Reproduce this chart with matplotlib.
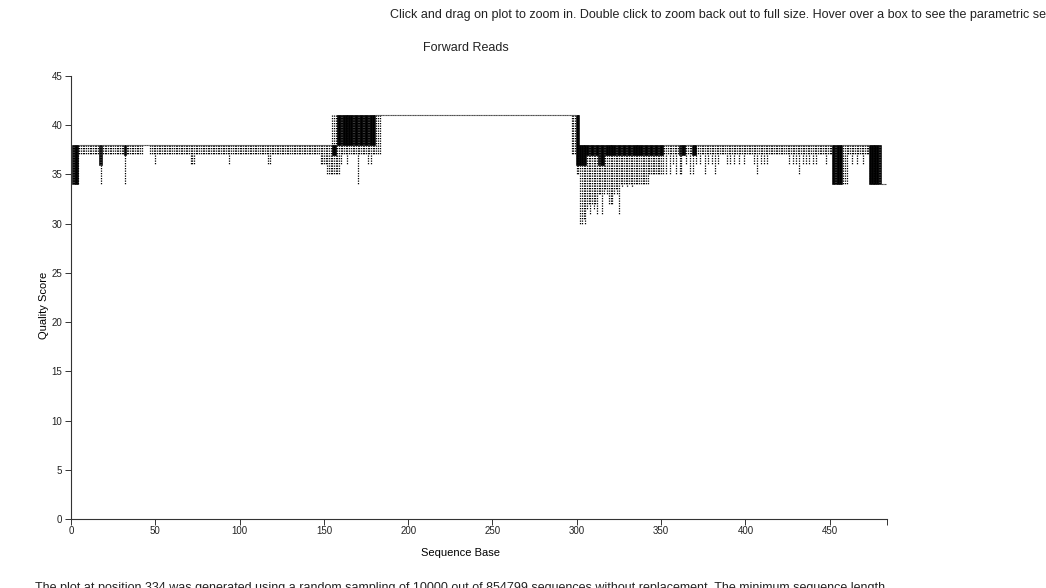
import matplotlib
matplotlib.use("Agg")
import matplotlib.pyplot as plt
from matplotlib.collections import LineCollection
import numpy as np

plt.rcParams['font.family'] = ['Liberation Sans', 'DejaVu Sans']

# ---- data: per-position quality summaries, read as runs of positions ----
seg_start = [1, 5, 17, 19, 32, 33, 43, 47, 148, 155, 158, 181, 184, 297, 300, 302, 343, 352, 452, 458, 461, 474, 481]
seg_end   = [4, 16, 18, 31, 32, 42, 46, 147, 154, 157, 180, 183, 296, 299, 301, 342, 351, 451, 457, 460, 473, 480, 483]
seg_wlow  = [34, 37, 36, 37, 34, 37, 38, 37, 36, 35, 37, 37, 41, 37, 35, 34, 35, 37, 34, 34, 37, 34, 34]
seg_q1    = [34, 38, 36, 38, 37, 38, 38, 38, 38, 37, 38, 41, 41, 41, 36, 37, 37, 38, 34, 38, 38, 34, 34]
seg_med   = [37, 38, 38, 38, 38, 38, 38, 38, 38, 38, 41, 41, 41, 41, 38, 38, 38, 38, 37, 38, 38, 37, 34]
seg_q3    = [38, 38, 38, 38, 38, 38, 38, 38, 38, 38, 41, 41, 41, 41, 41, 38, 38, 38, 38, 38, 38, 38, 34]
seg_whigh = [38, 38, 38, 38, 38, 38, 38, 38, 38, 41, 41, 41, 41, 41, 41, 38, 38, 38, 38, 38, 38, 38, 34]

# individual positions whose lower whisker differs from its run
low_pos = [18, 50, 71, 72, 73, 94, 117, 118, 152, 153, 154, 158, 159, 160, 164, 170, 176, 178,
           302, 303, 304, 305, 306, 307, 308, 309, 310, 311, 312, 313, 314, 315, 316, 317, 318,
           319, 320, 321, 322, 323, 324, 325, 327, 330, 333,
           353, 355, 357, 359, 361, 362, 365, 367, 369, 371, 373, 376, 378, 380, 382, 384,
           389, 391, 393, 396, 399, 405, 407, 409, 411, 413, 426, 428, 430, 432, 434, 436,
           438, 440, 442, 448, 463, 466, 470]
low_val = [34, 36, 36, 36, 36, 36, 36, 36, 35, 35, 35, 35, 35, 36, 36, 34, 36, 36,
           30, 30, 30.5, 30, 31.5, 32, 31, 32, 31.5, 32, 31, 33, 33, 31, 33, 33.5, 33,
           32, 32, 32, 33, 33.5, 33, 31, 33.7, 33.7, 33.7,
           35, 35, 36, 35, 35, 35, 36, 35, 35, 36, 36, 35, 36, 36, 35, 36,
           36, 36, 36, 36, 36, 36, 35, 36, 36, 36, 36, 36, 36, 35, 36, 36,
           36, 36, 36, 36, 36, 36, 36]

# individual positions whose lower quartile differs from its run
q1_pos = [302, 303, 304, 305, 313, 314, 315, 316, 361, 362, 363, 364, 369, 370]
q1_val = [36, 36, 36, 36, 36, 36, 36, 36, 37, 37, 37, 37, 37, 37]

x_ticks = [0, 50, 100, 150, 200, 250, 300, 350, 400, 450]
y_ticks = [0, 5, 10, 15, 20, 25, 30, 35, 40, 45]

# ---- expand runs ----
pos, wl, q1, med, q3, wh = [], [], [], [], [], []
for s, e, a, b, c, d, f in zip(seg_start, seg_end, seg_wlow, seg_q1, seg_med, seg_q3, seg_whigh):
    for p in range(s, e + 1):
        pos.append(p); wl.append(a); q1.append(b); med.append(c); q3.append(d); wh.append(f)
pos = np.array(pos); wl = np.array(wl, float); q1 = np.array(q1, float)
med = np.array(med, float); q3 = np.array(q3, float); wh = np.array(wh, float)
idx = {p: i for i, p in enumerate(pos)}
for p, v in zip(low_pos, low_val):
    wl[idx[p]] = v
for p, v in zip(q1_pos, q1_val):
    q1[idx[p]] = v

fig = plt.figure(figsize=(10.46, 5.88), dpi=100)
ax = fig.add_axes([71 / 1046, 1 - 519 / 588, (887 - 71) / 1046, (519 - 76) / 588])
ax.set_xlim(0, 484)
ax.set_ylim(0, 45)

# whiskers: dotted, drawn from top down so dash patterns align
segs = [[(p, h), (p, l)] for p, h, l in zip(pos, wh, wl) if h > l]
lc = LineCollection(segs, colors='black', linewidths=0.9, linestyles=[(0, (1.0, 1.0))])
ax.add_collection(lc)

# boxes
bw = 0.85
for p, a, b, m in zip(pos, q1, q3, med):
    if b > a:
        ax.add_patch(plt.Rectangle((p - bw / 2, a), bw, b - a, facecolor='black',
                                   edgecolor='black', linewidth=0.4))
# zero-height boxes / medians as thin horizontal strokes
hx0 = pos - 0.5
hx1 = pos + 0.5
flat = q3 == q1
ax.hlines(q3[flat], hx0[flat], hx1[flat], colors='#555555', linewidth=0.8)

# axes styling
for s in ['top', 'right']:
    ax.spines[s].set_visible(False)
for s in ['left', 'bottom']:
    ax.spines[s].set_linewidth(0.8)
    ax.spines[s].set_color('#333333')
ax.set_xticks(x_ticks + [484])
ax.set_xticklabels([str(t) for t in x_ticks] + [''])
ax.set_yticks(y_ticks)
ax.set_yticklabels([str(t) for t in y_ticks])
ax.tick_params(direction='out', length=4.3, width=0.7, labelsize=7,
               color='#333333', labelcolor='#222222')
ax.tick_params(axis='y', pad=2.0)
ax.tick_params(axis='x', pad=1.0)

ax.set_xlabel('Sequence Base', fontsize=8)
ax.xaxis.set_label_coords((461 - 71) / (887 - 71), -(548 - 519) / (519 - 76))
ax.set_ylabel('Quality Score', fontsize=8)
ax.yaxis.set_label_coords(-(71 - 49) / (887 - 71), (519 - 305) / (519 - 76))

fig.text(390 / 1046, 1 - 15 / 588,
         'Click and drag on plot to zoom in. Double click to zoom back out to full size. '
         'Hover over a box to see the parametric seven-number summary.',
         fontsize=9, ha='left', va='center', color='#222222')
fig.text(423 / 1046, 1 - 48 / 588, 'Forward Reads', fontsize=9, ha='left', va='center',
         color='#222222')
fig.text(35 / 1046, 1 - 581.5 / 588,
         'The plot at position 334 was generated using a random sampling of 10000 out of '
         '854799 sequences without replacement. The minimum sequence length',
         fontsize=9, ha='left', va='top', color='#222222')

fig.savefig('out.png', dpi=100)
